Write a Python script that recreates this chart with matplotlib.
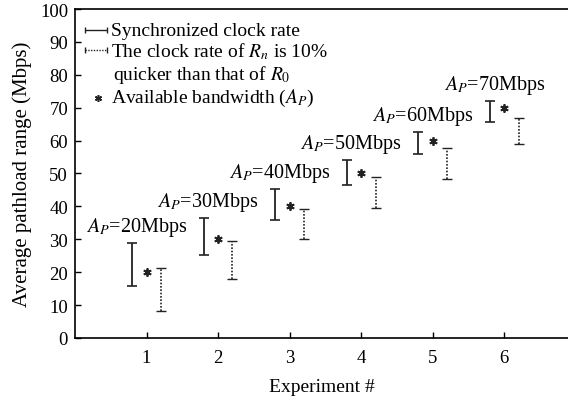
import numpy as np
import matplotlib
matplotlib.use("Agg")
import matplotlib.pyplot as plt

plt.rcParams['font.family'] = ['Liberation Serif', 'DejaVu Serif']
plt.rcParams['mathtext.fontset'] = 'stix'

# data
experiments = [1, 2, 3, 4, 5, 6]
available_bw = [20, 30, 40, 50, 60, 70]
sync_low = [15.8, 25.3, 36.0, 46.4, 56.0, 65.6]
sync_high = [29.0, 36.6, 45.2, 54.0, 62.5, 72.1]
fast_low = [8.3, 18.0, 30.0, 39.6, 48.4, 59.0]
fast_high = [21.2, 29.5, 39.3, 48.9, 57.8, 66.9]
labels = ["$A_P$=%dMbps" % v for v in available_bw]

x = np.array(experiments, dtype=float)
sync_low = np.array(sync_low)
sync_high = np.array(sync_high)
fast_low = np.array(fast_low)
fast_high = np.array(fast_high)

col = '#222222'
fs = 14.5
fig = plt.figure(figsize=(5.68, 4.02), dpi=100)
ax = fig.add_axes([0.132, 0.157, 0.868, 0.818])

# synchronized clock rate ranges
mid = (sync_low + sync_high) / 2
ax.errorbar(x - 0.2, mid, yerr=(sync_high - sync_low) / 2, fmt='none',
            ecolor=col, elinewidth=1.3, capsize=3.5, capthick=1.2)

# 10% quicker clock ranges, dotted stems
mid2 = (fast_low + fast_high) / 2
eb = ax.errorbar(x + 0.2, mid2, yerr=(fast_high - fast_low) / 2, fmt='none',
                 ecolor=col, elinewidth=1.2, capsize=3.5, capthick=1.0)
eb[2][0].set_linestyle((0, (1, 1)))

# available bandwidth
ax.plot(x, available_bw, linestyle='none', marker=(6, 2, 0), ms=6, mew=1.3, color=col)

for xi, top, lab in zip(x, sync_high, labels):
    ax.text(xi - 0.14, top + 1.5, lab, ha='center', va='bottom', fontsize=fs)

# legend drawn by hand
lfs = 14
ax.errorbar([0.29], [93.6], xerr=[0.156], fmt='none', ecolor=col, elinewidth=1.0,
            capsize=2.5, capthick=1.0)
eb2 = ax.errorbar([0.29], [87.6], xerr=[0.156], fmt='none', ecolor=col, elinewidth=1.0,
                  capsize=2.5, capthick=1.0)
eb2[2][0].set_linestyle((0, (1, 1)))
ax.plot([0.32], [73], linestyle='none', marker=(6, 2, 0), ms=5, mew=1.1, color=col)
ax.text(0.51, 93.6, "Synchronized clock rate", va='center', fontsize=lfs)
ax.text(0.51, 87.4, "The clock rate of $R_n$ is 10%", va='center', fontsize=lfs)
ax.text(0.53, 80.2, "quicker than that of $R_0$", va='center', fontsize=lfs)
ax.text(0.51, 73, "Available bandwidth ($A_P$)", va='center', fontsize=lfs)

ax.set_xlim(0, 6.89)
ax.set_ylim(0, 100)
ax.set_xticks(experiments)
ax.set_yticks(np.arange(0, 101, 10))
ax.tick_params(direction='in', length=4, labelsize=13.5, width=1)
ax.tick_params(axis='x', pad=8)
ax.tick_params(axis='y', pad=5)
ax.spines['right'].set_visible(False)
for s in ['left', 'bottom', 'top']:
    ax.spines[s].set_linewidth(1.2)
ax.set_xlabel("Experiment #", fontsize=14, labelpad=9)
ax.set_ylabel("Average pathload range (Mbps)", fontsize=15, labelpad=6)

fig.savefig("out.png", dpi=100)
